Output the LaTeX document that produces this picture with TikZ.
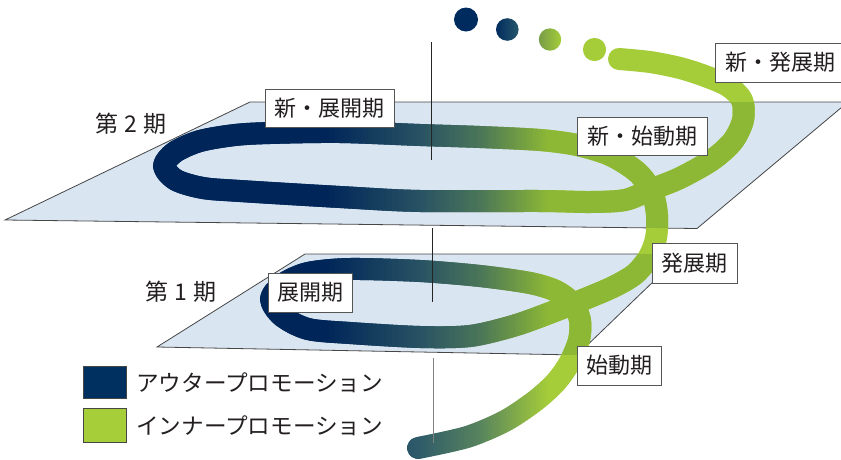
\documentclass[tikz,border=0pt]{standalone}
\usepackage{fontspec}
\setmainfont{Noto Sans CJK JP}
\definecolor{ribnavy}{RGB}{0,43,94}
\definecolor{ribnavyd}{RGB}{0,38,89}
\definecolor{ribgreen}{RGB}{165,205,57}
\definecolor{ribgreend}{RGB}{141,184,54}
\definecolor{planeblue}{RGB}{218,229,242}
\definecolor{edgegrey}{RGB}{70,70,70}
\definecolor{boxgrey}{RGB}{85,85,85}
\definecolor{txt}{RGB}{35,31,32}
\definecolor{legnavy}{RGB}{0,48,96}
\definecolor{leggreen}{RGB}{166,206,57}
\tikzset{
  lab/.style={draw=boxgrey, line width=0.9pt, fill=white, inner sep=0pt, text=txt,
    font=\fontsize{22}{26}\selectfont},
  sidelab/.style={inner sep=0pt, text=txt, font=\fontsize{23}{27}\selectfont},
  legtext/.style={inner sep=0pt, anchor=west, text=txt, font=\fontsize{22.6}{26}\selectfont},
  planeface/.style={fill=planeblue, draw=edgegrey, line width=0.8pt},
  ribbon/.style={line width=22pt, line cap=round, line join=round},
  axisline/.style={draw=black!85, line width=0.9pt},
  legbox/.style={draw=edgegrey, line width=0.8pt},
}
\def\ribpath{plot[smooth,tension=0.5] coordinates {
(418,448) (467,437) (505,421) (535,401) (556,382) (570,362) (579,340) (580,320)
(572,303) (556,291) (530,283) (480,276) (420,271) (350,269) (308,273) (283,284)
(271,299) (282,316) (308,329) (350,333) (420,337) (470,336) (513,326) (547,314)
(580,301) (613,287) (635,274) (649,257) (656,238) (657,215) (652,192) (637,172)
(610,155) (577,145) (540,140) (480,137) (420,135) (340,132) (270,133) (235,135)
(200,141) (175,152) (164,166) (176,180) (203,188) (240,191) (340,197) (420,201)
(540,201) (590,202) (625,200) (650,190) (680,178) (712,160) (733,141) (743,120)
(742,100) (728,86) (705,76) (680,68) (650,62) (619,59)}}
\def\planeclip{(5,220) -- (250,102) -- (848,102) -- (697,228.5) -- cycle
  (157,347) -- (305,254) -- (682,254) -- (577,355) -- cycle}
\newcommand\ribinterp[8]{%
  \pgfmathsetmacro\ribS{(\ribX-#1)/(#2-#1)}%
  \pgfmathtruncatemacro\ribR{#3+(#6-#3)*\ribS}%
  \pgfmathtruncatemacro\ribG{#4+(#7-#4)*\ribS}%
  \pgfmathtruncatemacro\ribBl{#5+(#8-#5)*\ribS}}
\newcommand\ribsetcolor{%
  \ifdim\ribX pt<420pt \ribinterp{326}{420}{0}{43}{94}{48}{92}{106}%
  \else\ifdim\ribX pt<480pt \ribinterp{420}{480}{48}{92}{106}{88}{132}{94}%
  \else \ribinterp{480}{548}{88}{132}{94}{165}{205}{57}\fi\fi
  \definecolor{ribA}{RGB}{\ribR,\ribG,\ribBl}%
  \pgfmathtruncatemacro\ribRd{\ribR*0.855}%
  \pgfmathtruncatemacro\ribGd{\ribG*0.898}%
  \pgfmathtruncatemacro\ribBd{\ribBl*0.949}%
  \definecolor{ribB}{RGB}{\ribRd,\ribGd,\ribBd}}
\begin{document}
\begin{tikzpicture}[x=1pt,y=-1pt]
\useasboundingbox (0,0) rectangle (841,459);
\clip (0,0) rectangle (841,459);
% planes
\path[planeface] (5,220) -- (250,102) -- (848,102) -- (697,228.5) -- cycle;
\path[planeface] (157,347) -- (305,254) -- (682,254) -- (577,355) -- cycle;
% ribbon, left navy part
\begin{scope}
  \clip (0,0) rectangle (326.3,459);
  \draw[ribbon, color=ribnavy] \ribpath;
  \clip \planeclip;
  \draw[ribbon, color=ribnavyd] \ribpath;
\end{scope}
% ribbon gradient strips
\foreach \i in {0,...,73}{
  \pgfmathsetmacro\stripL{326+3*\i}
  \pgfmathsetmacro\stripR{326+3*\i+3.4}
  \pgfmathsetmacro\ribX{326+3*\i+1.5}
  \ribsetcolor
  \begin{scope}
    \clip (\stripL,0) rectangle (\stripR,459);
    \draw[ribbon, color=ribA] \ribpath;
    \clip \planeclip;
    \draw[ribbon, color=ribB] \ribpath;
  \end{scope}
}
% ribbon, right green part
\begin{scope}
  \clip (548,0) rectangle (841,459);
  \draw[ribbon, color=ribgreen] \ribpath;
  \clip \planeclip;
  \draw[ribbon, color=ribgreend] \ribpath;
\end{scope}
% axis line segments
\draw[axisline] (431.5,42) -- (431.5,160);
\draw[axisline] (432,228) -- (432,302);
\draw[axisline, draw=black!50] (433,358) -- (433,443);
% dots
\fill[ribnavy] (466,19.5) circle (12);
\shade[left color=ribnavy, right color={rgb,255:red,40;green,88;blue,108}] (507.3,29.5) circle (11.3);
\shade[left color={rgb,255:red,118;green,156;blue,72}, right color=ribgreen] (550,39.5) circle (11.2);
\fill[ribgreen] (594.5,49.5) circle (11.6);
% labels
\node[lab, minimum width=129pt, minimum height=38pt] (nten) at (329.5,108) {新・展開期};
\node[lab, minimum width=130pt, minimum height=38pt] (nshi) at (642,136) {新・始動期};
\node[lab, minimum width=130pt, minimum height=39pt] (nhat) at (780,62.5) {新・発展期};
\node[lab, minimum width=85pt, minimum height=40pt] (hat) at (694.5,263) {発展期};
\node[lab, minimum width=84pt, minimum height=39pt] (shi) at (619,365.5) {始動期};
\node[lab, minimum width=84pt, minimum height=39pt] (ten) at (310,292.5) {展開期};
\node[sidelab] (p2) at (131,124) {第\hspace{6pt}2\hspace{6pt}期};
\node[sidelab] (p1) at (181,292) {第\hspace{6pt}1\hspace{6pt}期};
% legend
\filldraw[legbox, fill=legnavy] (83,366) rectangle (126,398);
\filldraw[legbox, fill=leggreen] (83,408) rectangle (126,442);
\node[legtext] (lo) at (136,383) {アウタープロモーション};
\node[legtext] (li) at (136,426) {インナープロモーション};
\end{tikzpicture}
\end{document}
